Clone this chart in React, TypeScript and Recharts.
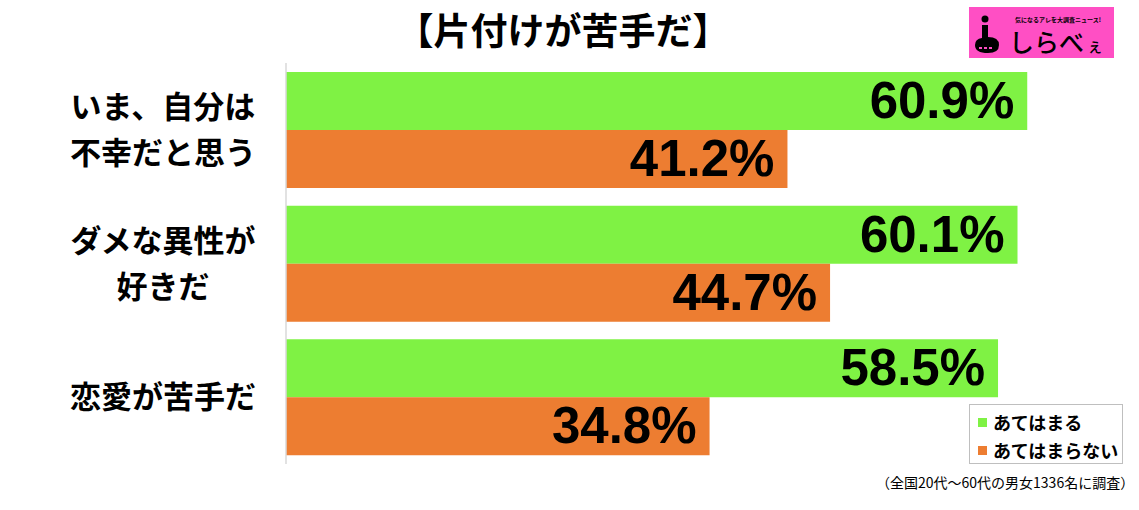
import React from 'react';
import { BarChart, Bar, XAxis, YAxis, LabelList } from 'recharts';

// 【片付けが苦手だ】 — あてはまる / あてはまらない の比較
const categories = ['いま、自分は\n不幸だと思う', 'ダメな異性が\n好きだ', '恋愛が苦手だ'];
const applies = [60.9, 60.1, 58.5];
const notApplies = [41.2, 44.7, 34.8];
const seriesNames = ['あてはまる', 'あてはまらない'];

const GREEN = '#7FF244';
const ORANGE = '#ED7D31';
const JP = '"Noto Sans CJK JP", "Noto Sans", sans-serif';
const NUM = '"Liberation Sans", Arial, sans-serif';

const data = categories.map((name, i) => ({ name, yes: applies[i], no: notApplies[i] }));

// カテゴリ名 — 複数行、中央揃え
const CategoryTick = (props: any) => {
  const { y, payload } = props;
  const lines: string[] = String(payload.value).split('\n');
  const lh = 46;
  const top = y - ((lines.length - 1) * lh) / 2;
  return (
    <g>
      {lines.map((l, i) => (
        <text
          key={i}
          x={163}
          y={top + i * lh}
          dy={11}
          textAnchor="middle"
          fontFamily={JP}
          fontWeight={700}
          fontSize={31}
          fill="#000"
        >
          {l}
        </text>
      ))}
    </g>
  );
};

// バー右端の数値ラベル
const ValueLabel = (props: any) => {
  const { x, y, width, height, value } = props;
  return (
    <text
      x={x + width - 13}
      y={y + height / 2 + 17}
      textAnchor="end"
      fontFamily={NUM}
      fontWeight={700}
      fontSize={51}
      fill="#000"
    >
      {`${Number(value).toFixed(1)}%`}
    </text>
  );
};

const LegendBox = () => (
  <div
    style={{
      position: 'absolute',
      left: 969,
      top: 404,
      width: 154,
      height: 60,
      border: '1.5px solid #bfbfbf',
      background: '#fff',
      boxSizing: 'border-box',
      fontFamily: JP,
      fontWeight: 700,
      fontSize: 18,
      padding: '3px 0 0 8px',
    }}
  >
    {seriesNames.map((n, i) => (
      <div key={n} style={{ display: 'flex', alignItems: 'center', height: 28, lineHeight: '28px' }}>
        <span style={{ width: 9, height: 9, background: i === 0 ? GREEN : ORANGE, marginRight: 6, display: 'inline-block' }} />
        <span>{n}</span>
      </div>
    ))}
  </div>
);

const Logo = () => (
  <div style={{ position: 'absolute', left: 969, top: 7, width: 145, height: 51, background: '#FF4FC4' }}>
    <svg width={145} height={51}>
      <circle cx={16} cy={12} r={3.5} fill="#000" />
      <path d="M13 18 L19 18 L19 30 Q30 30 30 38 Q30 46 19 46 Q6 46 6 38 Q6 32 13 31 Z" fill="#000" />
      <rect x={10} y={40} width={3} height={2} fill="#FF4FC4" />
      <rect x={15} y={40} width={3} height={2} fill="#FF4FC4" />
      <rect x={20} y={40} width={3} height={2} fill="#FF4FC4" />
      <text x={46} y={15} fontFamily={JP} fontWeight={700} fontSize={6} fill="#000">気になるアレを大調査ニュース!</text>
      <text x={40} y={45} fontFamily={JP} fontWeight={500} fontSize={25} fill="#000">しらべ</text>
      <text x={118} y={45} fontFamily={JP} fontWeight={500} fontSize={16} fill="#000">ぇ</text>
    </svg>
  </div>
);

export default function App() {
  return (
    <div style={{ position: 'fixed', left: 0, top: 0, width: 1139, height: 510, background: '#fff' }}>
      <div
        style={{
          position: 'absolute',
          left: 0,
          top: 3,
          width: 1126,
          textAlign: 'center',
          fontFamily: JP,
          fontWeight: 700,
          fontSize: 37,
          lineHeight: '52px',
          color: '#000',
        }}
      >
        【片付けが苦手だ】
      </div>
      <Logo />
      <BarChart
        width={1139}
        height={510}
        data={data}
        layout="vertical"
        margin={{ top: 63, right: 1, bottom: 46, left: 0 }}
        barGap={0}
        barSize={58}
      >
        <XAxis type="number" domain={[0, 70]} hide />
        <YAxis
          type="category"
          dataKey="name"
          width={286}
          axisLine={{ stroke: '#d9d9d9', strokeWidth: 1.5 }}
          tickLine={false}
          tick={<CategoryTick />}
          interval={0}
        />
        <Bar dataKey="yes" name={seriesNames[0]} fill={GREEN} isAnimationActive={false}>
          <LabelList dataKey="yes" content={<ValueLabel />} />
        </Bar>
        <Bar dataKey="no" name={seriesNames[1]} fill={ORANGE} isAnimationActive={false}>
          <LabelList dataKey="no" content={<ValueLabel />} />
        </Bar>
      </BarChart>
      <LegendBox />
      <div
        style={{
          position: 'absolute',
          left: 876,
          top: 472,
          fontFamily: JP,
          fontSize: 14,
          lineHeight: '20px',
          color: '#000',
          whiteSpace: 'nowrap',
        }}
      >
        （全国20代～60代の男女1336名に調査）
      </div>
    </div>
  );
}
